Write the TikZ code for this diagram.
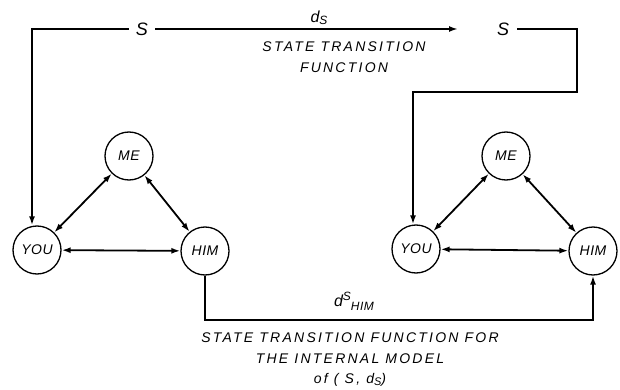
\documentclass[tikz,border=0pt]{standalone}
\usepackage{fontspec}
\newfontfamily\hand[LetterSpace=16]{Liberation Sans}
\newfontfamily\handc[LetterSpace=4]{Liberation Sans}
\usetikzlibrary{arrows.meta}
\begin{document}
\begin{tikzpicture}[x=1pt,y=-1pt,
  agent/.style={circle,draw,line width=1.3pt,minimum size=48pt,inner sep=0pt,font=\handc\itshape\fontsize{14}{16}\selectfont},
  conn/.style={line width=1.8pt},
  tip/.style={-{Latex[length=9pt,width=6pt]}},
  both/.style={{Latex[length=9pt,width=6pt]}-{Latex[length=9pt,width=6pt]}},
  lbl/.style={font=\hand\itshape\fontsize{14}{20.5}\selectfont,align=center,inner sep=0pt},
  sub/.style={},
  bigs/.style={font=\handc\itshape\fontsize{18}{18}\selectfont,inner sep=0pt}]
\useasboundingbox (0,0) rectangle (620,390);
% left triangle
\node[agent] (yL) at (37,250) {YOU};
\node[agent] (mL) at (129,156) {ME};
\node[agent] (hL) at (205,251) {HIM};
% right triangle
\node[agent] (yR) at (416,249) {YOU};
\node[agent] (mR) at (506,156) {ME};
\node[agent] (hR) at (593,251) {HIM};
\draw[conn,both] (yL) -- (mL);
\draw[conn,both] (mL) -- (hL);
\draw[conn,both] (yL) -- (hL);
\draw[conn,both] (yR) -- (mR);
\draw[conn,both] (mR) -- (hR);
\draw[conn,both] (yR) -- (hR);
% top states
\node[bigs] (sL) at (142,29) {S};
\node[bigs] (sR) at (503,29) {S};
\coordinate (cL) at (32,29);
\coordinate (aT) at (458,29);
\coordinate (c1) at (577,29);
\coordinate (c2) at (577,92);
\coordinate (c3) at (413,92);
\draw[conn,tip] ([xshift=-7pt]sL.west) -- (cL) -- (cL |- yL.north);
\draw[conn,tip] ([xshift=7pt]sL.east) -- (aT);
\draw[conn,tip] ([xshift=8pt]sR.east) -- (c1) -- (c2) -- (c3) -- (c3 |- yR.north);
\node[lbl,font=\handc\itshape\fontsize{16}{16}\selectfont] (ds) at (319,18) {d\raisebox{-0.2ex}{\fontsize{12}{12}\selectfont S}};
\node[lbl] (stf) at (344,57) {STATE TRANSITION\\FUNCTION};
% bottom
\coordinate (b1) at (205,320);
\coordinate (b2) at (593,320);
\draw[conn,tip] (hL.south) -- (b1) -- (b2) -- (hR.south);
\node[lbl,font=\handc\itshape\fontsize{16}{16}\selectfont] (dh) at (354,301) {d\raisebox{0.7ex}{\fontsize{12}{12}\selectfont S}\raisebox{-0.5ex}{\fontsize{12}{12}\selectfont HIM}};
\node[lbl] (stfm) at (350,360) {STATE TRANSITION FUNCTION FOR\\THE INTERNAL MODEL\\of ( S, d\raisebox{-0.2ex}{\fontsize{11}{11}\selectfont S})};
\end{tikzpicture}
\end{document}
